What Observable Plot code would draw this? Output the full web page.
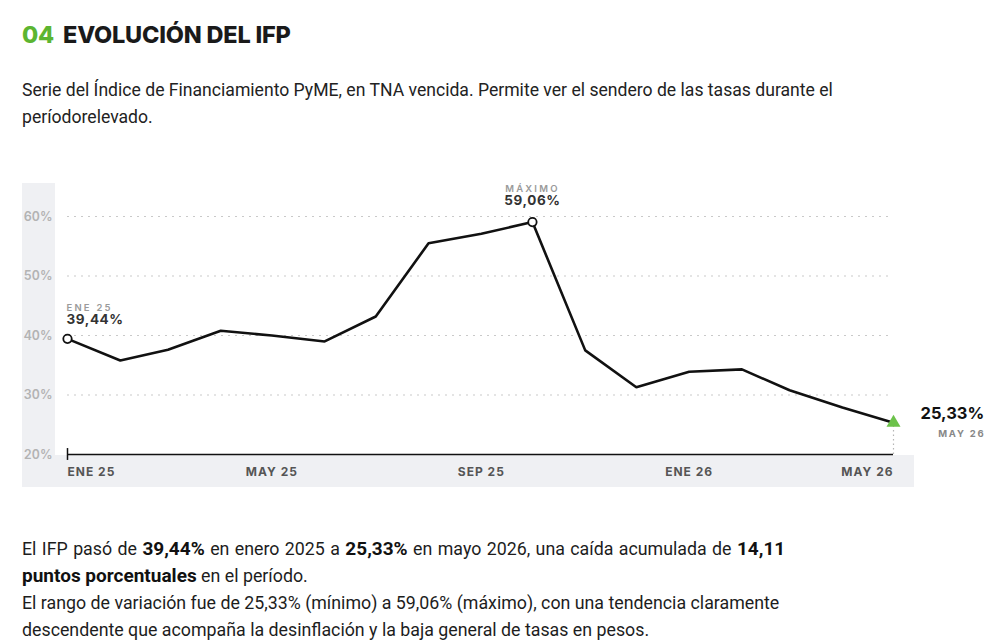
<!DOCTYPE html>
<html>
<head>
<meta charset="utf-8">
<script src="https://cdn.jsdelivr.net/npm/d3@7"></script>
<script src="https://cdn.jsdelivr.net/npm/@observablehq/plot@0.6"></script>
<style>
  html, body { margin: 0; padding: 0; background: #fff; width: 1000px; height: 644px; overflow: hidden; }
  body { position: relative; font-family: Roboto, "Noto Sans", sans-serif; color: #1d1d1d; }
  #title { position: absolute; left: 22px; top: 20px; font-family: Inter, sans-serif; font-weight: 800; font-size: 23.5px; line-height: 30px; letter-spacing: -0.2px; color: #1a1a1a; white-space: nowrap; }
  #title .num { color: #5cb531; margin-right: 9px; }
  #sub { position: absolute; left: 22px; top: 77px; font-size: 17.6px; line-height: 27px; color: #222; white-space: nowrap; }
  #panel { position: absolute; left: 22px; top: 183px; width: 892px; height: 304px; background: #eff0f3; }
  #plotbg { position: absolute; left: 55px; top: 183px; width: 859px; height: 272px; background: #fff; }
  #chart { position: absolute; left: 0; top: 170px; }
  #foot { position: absolute; left: 22px; top: 535px; font-size: 17.8px; line-height: 27px; color: #1d1d1d; white-space: nowrap; }
  #foot b { font-weight: 700; font-size: 19px; color: #111; }
  #foot .l1 { word-spacing: 1px; }
</style>
</head>
<body>
<div id="title"><span class="num">04</span>EVOLUCIÓN DEL IFP</div>
<div id="sub">Serie del Índice de Financiamiento PyME, en TNA vencida. Permite ver el sendero de las tasas durante el<br>períodorelevado.</div>
<div id="panel"></div>
<div id="plotbg"></div>
<div id="chart"></div>
<div id="foot"><span class="l1">El IFP pasó de <b>39,44%</b> en enero 2025 a <b>25,33%</b> en mayo 2026, una caída acumulada de <b>14,11</b></span><br><b>puntos porcentuales</b> en el período.<br>El rango de variación fue de 25,33% (mínimo) a 59,06% (máximo), con una tendencia claramente<br>descendente que acompaña la desinflación y la baja general de tasas en pesos.</div>
<script>
// ---- data ----
const months = ["2025-01","2025-02","2025-03","2025-04","2025-05","2025-06","2025-07","2025-08","2025-09","2025-10","2025-11","2025-12","2026-01","2026-02","2026-03","2026-04","2026-05"];
const ifp = [39.44, 35.8, 37.6, 40.8, 40.0, 39.0, 43.2, 55.5, 57.1, 59.06, 37.5, 31.3, 33.9, 34.3, 30.8, 27.9, 25.33];
const yTicks = [20, 30, 40, 50, 60];
const xTickMonths = ["2025-01","2025-05","2025-09","2026-01","2026-05"];
const xTickLabels = ["ENE 25","MAY 25","SEP 25","ENE 26","MAY 26"];
const firstLabel = {kicker: "ENE 25", value: "39,44%"};
const maxLabel = {kicker: "MÁXIMO", value: "59,06%"};
const lastLabel = {kicker: "MAY 26", value: "25,33%"};

const parse = d3.utcParse("%Y-%m");
const data = months.map((m, i) => ({date: parse(m), v: ifp[i]}));
const ticks = xTickMonths.map((m, i) => ({date: parse(m), label: xTickLabels[i]}));
const first = data[0];
const last = data[data.length - 1];
const maxPt = data.reduce((a, b) => (b.v > a.v ? b : a));

const plot = Plot.plot({
  width: 1000,
  height: 330,
  marginLeft: 67,
  marginRight: 107,
  marginTop: 46,
  marginBottom: 46,
  style: {fontFamily: "Inter, sans-serif", background: "transparent", overflow: "visible"},
  x: {type: "utc", domain: [first.date, last.date], axis: null},
  y: {domain: [20, 60], axis: null},
  marks: [
    Plot.gridY(yTicks.filter(t => t > 20), {stroke: "#c9c9c9", strokeOpacity: 1, strokeDasharray: "2,5", strokeWidth: 1}),
    Plot.axisY(yTicks, {tickSize: 0, tickPadding: 15, tickFormat: d => d + "%", fill: "#b3b3b3", fontSize: 12.5, fontWeight: 600, label: null}),
    Plot.ruleY([20], {stroke: "#111", strokeWidth: 1.5}),
    Plot.ruleX([first], {x: "date", y1: 19, y2: 21, stroke: "#111", strokeWidth: 1.5}),
    Plot.ruleX([last], {x: "date", y1: 20, y2: "v", stroke: "#b5b5b5", strokeDasharray: "1.5,3", strokeWidth: 1.2}),
    Plot.line(data, {x: "date", y: "v", stroke: "#111", strokeWidth: 2.6, strokeLinejoin: "miter"}),
    Plot.dot([first, maxPt], {x: "date", y: "v", r: 4.2, fill: "#fff", stroke: "#111", strokeWidth: 1.8}),
    Plot.dot([last], {x: "date", y: "v", symbol: "triangle", r: 5.2, fill: "#6cc24a", stroke: "none"}),
    // x tick labels
    Plot.text(ticks.slice(0, 1), {x: "date", y: 20, text: "label", dy: 18, textAnchor: "start", fontSize: 12, fontWeight: 700, fill: "#555"}),
    Plot.text(ticks.slice(1, -1), {x: "date", y: 20, text: "label", dy: 18, textAnchor: "middle", fontSize: 12, fontWeight: 700, fill: "#555"}),
    Plot.text(ticks.slice(-1), {x: "date", y: 20, text: "label", dy: 18, textAnchor: "end", fontSize: 12, fontWeight: 700, fill: "#555"}),
    // first point annotation
    Plot.text([first], {x: "date", y: "v", text: () => firstLabel.kicker, dy: -31, dx: -1, textAnchor: "start", fontSize: 9.5, fontWeight: 600, fill: "#9a9a9a"}),
    Plot.text([first], {x: "date", y: "v", text: () => firstLabel.value, dy: -19, dx: -1, textAnchor: "start", fontSize: 13.5, fontWeight: 700, fill: "#333"}),
    // max annotation
    Plot.text([maxPt], {x: "date", y: "v", text: () => maxLabel.kicker, dy: -33, textAnchor: "middle", fontSize: 9.5, fontWeight: 600, fill: "#9a9a9a"}),
    Plot.text([maxPt], {x: "date", y: "v", text: () => maxLabel.value, dy: -21, textAnchor: "middle", fontSize: 13.5, fontWeight: 700, fill: "#333"}),
    // end annotation
    Plot.text([last], {x: "date", y: "v", text: () => lastLabel.value, dx: 27, dy: -9, textAnchor: "start", fontSize: 16.5, fontWeight: 700, fill: "#111"}),
    Plot.text([last], {x: "date", y: "v", text: () => lastLabel.kicker, dx: 92, dy: 11, textAnchor: "end", fontSize: 9.5, fontWeight: 700, fill: "#888"})
  ]
});
// letter spacing for the small uppercase labels (font-size may sit on the text or its group)
d3.select(plot).selectAll("text").each(function () {
  const el = d3.select(this);
  const t = el.text();
  const fs = +el.attr("font-size") || +this.parentNode.getAttribute("font-size") || 12;
  if (fs < 11 && (t === maxLabel.kicker || t === firstLabel.kicker)) el.attr("letter-spacing", "2.2px");
  else if (fs < 11 && t === lastLabel.kicker) el.attr("letter-spacing", "1.8px");
  else if (xTickLabels.includes(t)) el.attr("letter-spacing", "1px");
  else if (t === firstLabel.value || t === maxLabel.value) el.attr("letter-spacing", "0.6px");
});
document.getElementById("chart").appendChild(plot);
</script>
</body>
</html>
